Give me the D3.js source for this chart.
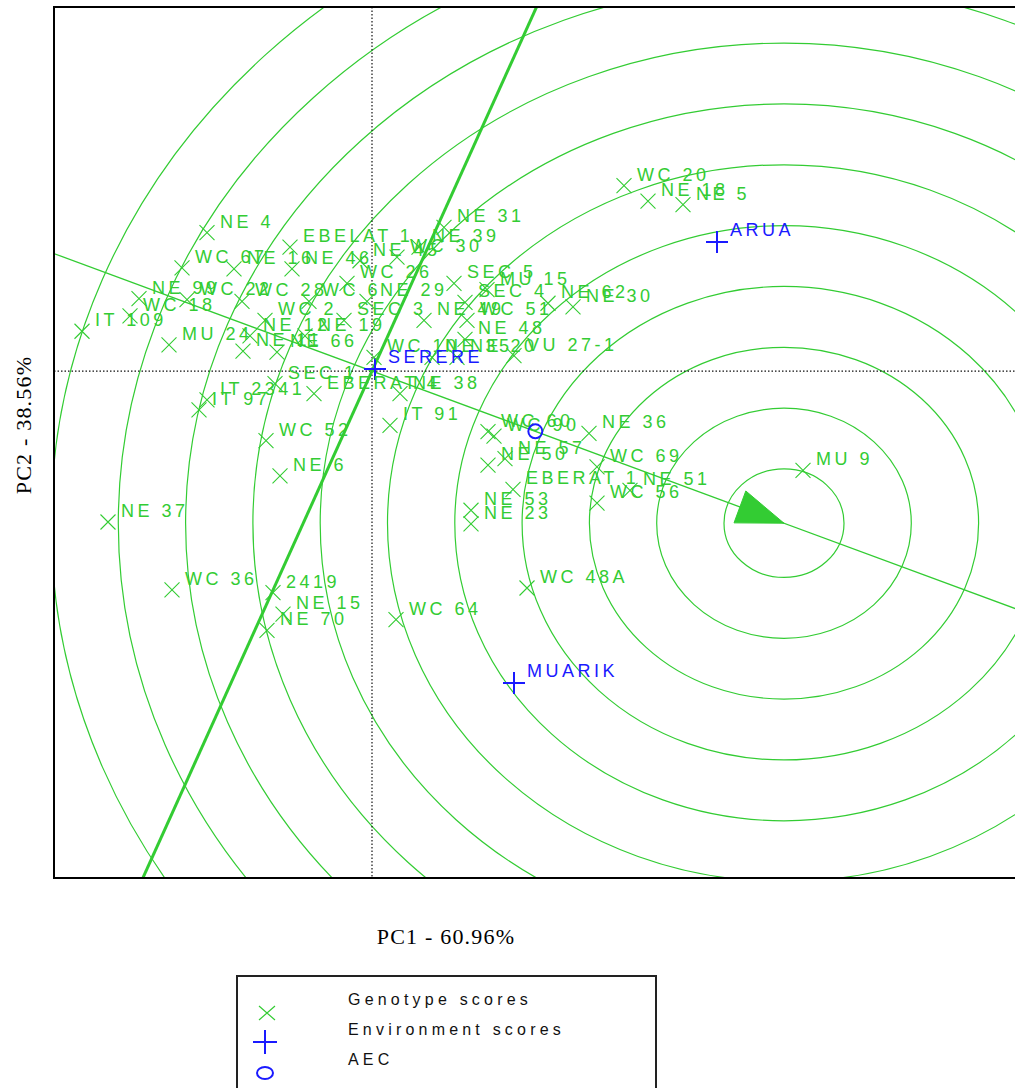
<!DOCTYPE html>
<html>
<head>
<meta charset="utf-8">
<script src="https://cdn.jsdelivr.net/npm/d3@7"></script>
<style>
  html, body { margin: 0; padding: 0; background: #fff; }
  svg { display: block; }
</style>
</head>
<body>
<svg id="chart" width="1015" height="1088"></svg>
<script>
// GGE biplot, "mean vs. stability" view: genotypes ranked against the ideal genotype.

// Genotype scores on the first two principal components
const genotypeNames = [
  "WC 20", "NE 18", "NE 5", "NE 31", "NE 39", "WC 30", "EBELAT 1", "NE 4",
  "WC 67", "NE 16", "NE 46", "NE 45", "NE 99", "WC 22", "WC 28", "WC 6",
  "NE 29", "SEC 4", "MU 15", "WC 26", "SEC 5", "WC 2", "SEC 3", "NE 49",
  "WC 51", "NE 48", "VU 27-1", "WC 10", "NE 35", "NE 20", "NE 62", "NE 30",
  "MU 24", "NE 12", "NE 11", "NE 66", "NE 19", "SEC 1", "EBERAT 4", "NE 38",
  "IT 2341", "IT 97", "IT 91", "WC 52", "NE 6", "NE 37", "WC 36", "2419",
  "NE 15", "NE 70", "WC 64", "WC 48A", "MU 9", "WC 60", "WC 90", "NE 36",
  "NE 50", "NE 57", "WC 69", "WC 56", "EBERAT 1", "NE 51", "NE 53", "NE 23",
  "IT 109", "WC 18"
];
const genotypePC1 = [
  2.52, 2.76, 3.11, 0.72, 0.47, 0.25, -0.82, -1.65,
  -1.90, -1.38, -0.80, -0.12, -2.33, -1.85, -1.30, -0.63,
  -0.05, 0.93, 1.15, -0.25, 0.82, -1.07, -0.28, 0.52,
  0.95, 0.93, 1.42, 0.02, 0.60, 0.85, 1.76, 2.01,
  -2.03, -1.22, -1.29, -0.95, -0.67, -0.97, -0.58, 0.28,
  -1.65, -1.73, 0.18, -1.06, -0.92, -2.64, -2.00, -0.99,
  -0.89, -1.05, 0.24, 1.55, 4.31, 1.16, 1.22, 2.17,
  1.16, 1.33, 2.25, 2.25, 1.41, 2.58, 0.99, 0.99,
  -2.90, -2.42
];
const genotypePC2 = [
  2.05, 1.88, 1.84, 1.59, 1.37, 1.26, 1.37, 1.53,
  1.14, 1.13, 1.13, 1.22, 0.80, 0.79, 0.77, 0.77,
  0.77, 0.76, 0.90, 0.97, 0.97, 0.56, 0.56, 0.56,
  0.56, 0.35, 0.17, 0.15, 0.15, 0.15, 0.75, 0.71,
  0.29, 0.39, 0.22, 0.21, 0.39, -0.14, -0.25, -0.25,
  -0.32, -0.43, -0.60, -0.77, -1.16, -1.67, -2.42, -2.45,
  -2.69, -2.87, -2.75, -2.40, -1.10, -0.67, -0.72, -0.69,
  -1.04, -0.97, -1.06, -1.46, -1.31, -1.32, -1.54, -1.69,
  0.44, 0.61
];

// Environment scores
const environmentNames = ["ARUA", "MUARIK", "SERERE"];
const environmentPC1 = [3.45, 1.42, 0.03];
const environmentPC2 = [1.427, -3.451, 0.022];

// Ideal genotype: PC1 coordinate of the point on the AEC abscissa
const idealPC1 = 4.12;

// Concentric rings around the ideal genotype
const ringInnerRadius = 0.60;
const ringSpacing = 0.673;
const ringCount = 11;

const axisTitles = { x: "PC1 - 60.96%", y: "PC2 - 38.56%" };
const legendLabels = ["Genotype scores", "Environment scores", "AEC"];

// ---------------------------------------------------------------------------
const GREEN = "#33cc33";
const BLUE = "#1a1aff";

const svg = d3.select("#chart");
const plot = { left: 54, top: 7, right: 1030, bottom: 878 };

const x = d3.scaleLinear().domain([-3.18, 6.58]).range([plot.left, plot.right]);
const y = d3.scaleLinear().domain([4.027, -5.608]).range([plot.top, plot.bottom]);

svg.append("defs").append("clipPath").attr("id", "plotClip")
  .append("rect")
  .attr("x", plot.left).attr("y", plot.top)
  .attr("width", plot.right - plot.left).attr("height", plot.bottom - plot.top);

const g = svg.append("g").attr("clip-path", "url(#plotClip)");

// Average environment coordinate (AEC) and the ideal genotype on its axis
const aecX = d3.mean(environmentPC1);
const aecY = d3.mean(environmentPC2);
const idealScale = idealPC1 / aecX;
const idealX = aecX * idealScale;
const idealY = aecY * idealScale;

// Rings
const rings = d3.range(ringCount).map(i => ringInnerRadius + i * ringSpacing);
g.selectAll("ellipse.ring").data(rings).join("ellipse")
  .attr("class", "ring")
  .attr("cx", x(idealX)).attr("cy", y(idealY))
  .attr("rx", r => x(r) - x(0))
  .attr("ry", r => y(-r) - y(0))
  .attr("fill", "none")
  .attr("stroke", GREEN)
  .attr("stroke-width", 1.2);

// Dotted reference lines through the origin
g.append("line")
  .attr("x1", x(0)).attr("x2", x(0))
  .attr("y1", plot.top).attr("y2", plot.bottom)
  .attr("stroke", "#111").attr("stroke-width", 1.2)
  .attr("stroke-dasharray", "1.5,2");
g.append("line")
  .attr("x1", plot.left).attr("x2", plot.right)
  .attr("y1", y(0)).attr("y2", y(0))
  .attr("stroke", "#111").attr("stroke-width", 1.2)
  .attr("stroke-dasharray", "1.5,2");

// AEC abscissa (through origin and AEC) and ordinate (perpendicular)
const far = 30;
g.append("line")
  .attr("x1", x(-far * aecX)).attr("y1", y(-far * aecY))
  .attr("x2", x(far * aecX)).attr("y2", y(far * aecY))
  .attr("stroke", GREEN).attr("stroke-width", 1.3);
g.append("line")
  .attr("x1", x(far * aecY)).attr("y1", y(-far * aecX))
  .attr("x2", x(-far * aecY)).attr("y2", y(far * aecX))
  .attr("stroke", GREEN).attr("stroke-width", 3);

// Arrowhead pointing at the ideal genotype
{
  const tx = x(idealX), ty = y(idealY);
  const ox = x(0), oy = y(0);
  const len = Math.hypot(tx - ox, ty - oy);
  const ux = (tx - ox) / len, uy = (ty - oy) / len;
  const bx = tx - 47 * ux, by = ty - 47 * uy;
  const nx = -uy, ny = ux;
  g.append("path")
    .attr("d", d3.line()([[tx, ty], [bx + 17 * nx, by + 17 * ny], [bx - 17 * nx, by - 17 * ny]]) + "Z")
    .attr("fill", GREEN).attr("stroke", GREEN).attr("stroke-width", 1);
}

const labelFont = "'Liberation Sans', Arial, sans-serif";

// Environment markers and labels
const environments = environmentNames.map((name, i) => ({ name, pc1: environmentPC1[i], pc2: environmentPC2[i] }));
const plus = 11;
g.selectAll("path.env").data(environments).join("path")
  .attr("class", "env")
  .attr("d", d => {
    const px = x(d.pc1), py = y(d.pc2);
    return `M${px - plus},${py}L${px + plus},${py}M${px},${py - plus}L${px},${py + plus}`;
  })
  .attr("stroke", BLUE).attr("stroke-width", 2).attr("fill", "none");

// Genotype markers and labels
const genotypes = genotypeNames.map((name, i) => ({ name, pc1: genotypePC1[i], pc2: genotypePC2[i] }));
const cross = 7.5;
g.selectAll("path.geno").data(genotypes).join("path")
  .attr("class", "geno")
  .attr("d", d => {
    const px = x(d.pc1), py = y(d.pc2);
    return `M${px - cross},${py - cross}L${px + cross},${py + cross}M${px - cross},${py + cross}L${px + cross},${py - cross}`;
  })
  .attr("stroke", GREEN).attr("stroke-width", 1.1).attr("fill", "none");

g.selectAll("text.geno").data(genotypes).join("text")
  .attr("class", "geno")
  .attr("x", d => x(d.pc1) + 13)
  .attr("y", d => y(d.pc2) - 5)
  .attr("fill", GREEN)
  .style("font-family", labelFont)
  .style("font-size", "18px")
  .style("letter-spacing", "3.5px")
  .text(d => d.name);

g.selectAll("text.env").data(environments).join("text")
  .attr("class", "env")
  .attr("x", d => x(d.pc1) + 13)
  .attr("y", d => y(d.pc2) - 6)
  .attr("fill", BLUE)
  .style("font-family", labelFont)
  .style("font-size", "18px")
  .style("letter-spacing", "3.5px")
  .text(d => d.name);

// AEC marker
g.append("ellipse")
  .attr("cx", x(aecX)).attr("cy", y(aecY))
  .attr("rx", 7).attr("ry", 7)
  .attr("fill", "none").attr("stroke", BLUE).attr("stroke-width", 2);

// Plot frame
svg.append("path")
  .attr("d", `M${plot.right},${plot.top}H${plot.left}V${plot.bottom}H${plot.right}`)
  .attr("fill", "none").attr("stroke", "#000").attr("stroke-width", 2);

// Axis titles
const titleFont = "'Liberation Serif', 'Times New Roman', serif";
svg.append("text")
  .attr("x", 446).attr("y", 944)
  .attr("text-anchor", "middle")
  .style("font-family", titleFont)
  .style("font-size", "22px")
  .style("letter-spacing", "1.2px")
  .text(axisTitles.x);
svg.append("text")
  .attr("transform", "translate(31,425) rotate(-90)")
  .attr("text-anchor", "middle")
  .style("font-family", titleFont)
  .style("font-size", "22px")
  .style("letter-spacing", "1.2px")
  .text(axisTitles.y);

// Legend
const legend = svg.append("g");
legend.append("rect")
  .attr("x", 237).attr("y", 976).attr("width", 419).attr("height", 160)
  .attr("fill", "none").attr("stroke", "#222").attr("stroke-width", 2);
const legendRows = [999, 1029, 1059];
legend.selectAll("text").data(legendLabels).join("text")
  .attr("x", 348).attr("y", (d, i) => legendRows[i] + 6)
  .style("font-family", labelFont)
  .style("font-size", "16px")
  .style("letter-spacing", "4.2px")
  .attr("fill", "#111")
  .text(d => d);
legend.append("path")
  .attr("d", "M259,1006L275,1020M259,1020L275,1006")
  .attr("stroke", GREEN).attr("stroke-width", 1.2);
legend.append("path")
  .attr("d", "M253,1042L277,1042M265,1030L265,1054")
  .attr("stroke", BLUE).attr("stroke-width", 2);
legend.append("ellipse")
  .attr("cx", 265).attr("cy", 1073).attr("rx", 8).attr("ry", 6)
  .attr("fill", "none").attr("stroke", BLUE).attr("stroke-width", 2);
</script>
</body>
</html>
